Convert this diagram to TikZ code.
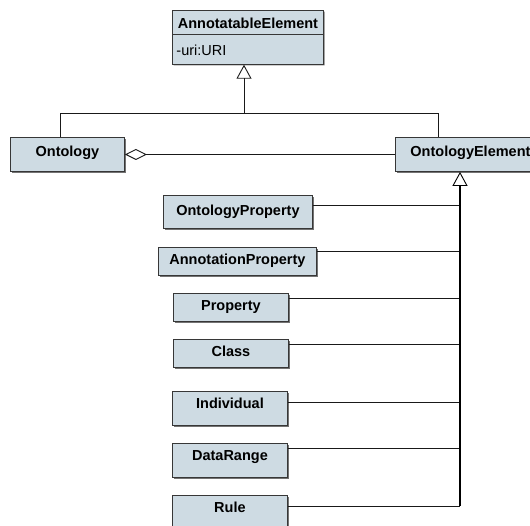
\documentclass[tikz,border=0pt]{standalone}
\usepackage{fontspec}
\setmainfont{Liberation Sans}
\usetikzlibrary{arrows.meta,shapes.multipart,shadows}

\definecolor{clsfill}{RGB}{206,219,227}
\definecolor{clsline}{RGB}{55,55,55}
\definecolor{wire}{RGB}{25,25,25}

\tikzset{
  cls/.style={draw=clsline, fill=clsfill, line width=0.9pt, anchor=north west,
    inner xsep=4pt, inner ysep=0pt,
    font=\fontsize{14.5}{17}\selectfont\bfseries,
    drop shadow={shadow xshift=1.2pt, shadow yshift=-1.2pt, fill=black, opacity=.55}},
  wire/.style={draw=wire, line width=0.9pt},
  trunk/.style={draw=black, line width=1.4pt},
  gen/.style={-{Triangle[open, length=14pt, width=15pt, line width=0.9pt]}},
  agg/.style={{Diamond[open, length=22pt, width=11pt, line width=0.9pt]}-}
}

\begin{document}
\begin{tikzpicture}[x=1pt, y=-1pt]
\clip (0,0) rectangle (530,525);
\fill[white] (0,0) rectangle (530,525);

% root class with its attribute compartment
\node[cls, rectangle split, rectangle split parts=2,
      rectangle split part align={center,left}, minimum width=151pt] (ae) at (172,10)
  {\rule[-5pt]{0pt}{23pt}AnnotatableElement\nodepart{second}\rule[-8pt]{0pt}{29pt}\mdseries -uri:URI};

% second level
\node[cls, minimum width=114pt, text height=19pt, text depth=15pt] (ont) at (10,137) {Ontology};
\node[cls, minimum width=150pt, text height=19pt, text depth=15pt] (oe) at (395,137) {OntologyElement};

% kinds of ontology element
\node[cls, minimum width=149pt, text height=20pt, text depth=13pt] (op) at (163,195) {OntologyProperty};
\node[cls, minimum width=158pt, text height=17pt, text depth=11pt] (ap) at (158,247) {AnnotationProperty};
\node[cls, minimum width=115pt, text height=17pt, text depth=11pt] (pr) at (173,293) {Property};
\node[cls, minimum width=115pt, text height=17pt, text depth=11pt] (cl) at (173,339) {Class};
\node[cls, minimum width=115pt, text height=17pt, text depth=17pt] (in) at (172,391) {Individual};
\node[cls, minimum width=115pt, text height=17pt, text depth=17pt] (dr) at (172,443) {DataRange};
\node[cls, minimum width=115pt, text height=17pt, text depth=40pt] (ru) at (172,495) {Rule};

% bends of the upper generalization
\coordinate (busL) at (60.7,113);
\coordinate (busM) at (244,113);
\coordinate (busR) at (438,113);

\draw[wire] (ont.north -| busL) -- (busL) -- (busR) -- (oe.north -| busR);
\draw[wire, gen] (busM) -- (ae.south -| busM);

% aggregation
\draw[wire, agg] (ont.east) -- (oe.west);

% joints on the lower generalization trunk
\coordinate (j1) at (460,205.7);
\coordinate (j2) at (460,251.7);
\coordinate (j3) at (460,298.3);
\coordinate (j4) at (460,344);
\coordinate (j5) at (460,402.3);
\coordinate (j6) at (460,448.3);
\coordinate (j7) at (460,506);

\draw[wire] (op.east |- j1) -- (j1);
\draw[wire] (ap.east |- j2) -- (j2);
\draw[wire] (pr.east |- j3) -- (j3);
\draw[wire] (cl.east |- j4) -- (j4);
\draw[wire] (in.east |- j5) -- (j5);
\draw[wire] (dr.east |- j6) -- (j6);
\draw[wire] (ru.east |- j7) -- (j7);
\draw[trunk, gen] (j7) -- (oe.south -| j7);
\end{tikzpicture}
\end{document}
